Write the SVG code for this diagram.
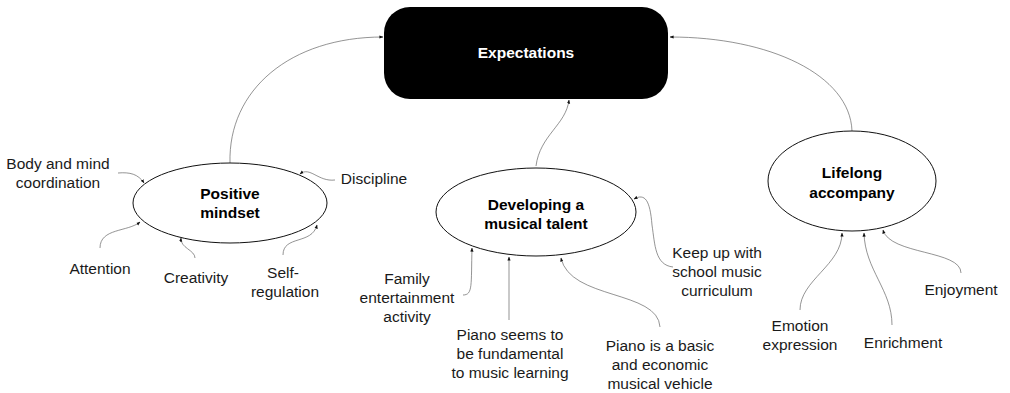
<svg xmlns="http://www.w3.org/2000/svg" width="1010" height="393" viewBox="0 0 1010 393">
  <style>
    .lbl { font-family: "Liberation Sans", Arial, sans-serif; font-size: 15.5px; fill: #1a1a1a; text-anchor: middle; }
    .ttl { font-family: "Liberation Sans", Arial, sans-serif; font-size: 15.5px; font-weight: bold; fill: #000; text-anchor: middle; }
    .hub { font-family: "Liberation Sans", Arial, sans-serif; font-size: 15.5px; font-weight: bold; fill: #fff; text-anchor: middle; }
    .oval { fill: #fff; stroke: #111; stroke-width: 1; }
    .link { fill: none; stroke: #666; stroke-width: 0.7; marker-end: url(#tip); }
  </style>
  <defs>
    <marker id="tip" viewBox="0 0 10 10" refX="9" refY="5" markerWidth="4" markerHeight="4" markerUnits="userSpaceOnUse" orient="auto">
      <path d="M0,1 L10,5 L0,9 Z" fill="#111"/>
    </marker>
  </defs>

  <rect width="1010" height="393" fill="#fff"/>

  <!-- connectors -->
  <g id="connectors">
    <path class="link" d="M230,163 C228,90 290,37 383,37"/>
    <path class="link" d="M852,131 C850,75 770,37 670,37"/>
    <path class="link" d="M536,166 C540,135 566,125 569,100"/>

    <path class="link" d="M118,173 C130,172 138,174 144,183"/>
    <path class="link" d="M335,180 C318,182 310,166 300,174"/>
    <path class="link" d="M100,248 C100,228 128,232 140,222"/>
    <path class="link" d="M195,258 C195,250 180,248 181,238"/>
    <path class="link" d="M283,255 C283,235 312,245 317,225"/>

    <path class="link" d="M463,295 C473,295 471,285 472,248"/>
    <path class="link" d="M509,320 L509,257"/>
    <path class="link" d="M660,327 C658,290 570,300 561,258"/>
    <path class="link" d="M673,267 C655,265 655,245 652,225 C650,200 645,193 634,199"/>

    <path class="link" d="M800,310 C800,280 842,265 842,233"/>
    <path class="link" d="M892,325 C892,290 865,270 864,233"/>
    <path class="link" d="M961,273 C961,250 890,255 883,230"/>
  </g>

  <!-- central goal -->
  <g id="expectations">
    <rect x="384" y="7" width="284" height="92" rx="26" ry="26" fill="#000"/>
    <text class="hub" x="526" y="58">Expectations</text>
  </g>

  <!-- themes -->
  <g id="positive-mindset">
    <ellipse class="oval" cx="230" cy="203" rx="97" ry="40"/>
    <text class="ttl" x="230" y="199">Positive</text>
    <text class="ttl" x="230" y="218">mindset</text>
  </g>
  <g id="musical-talent">
    <ellipse class="oval" cx="536" cy="212" rx="100" ry="44"/>
    <text class="ttl" x="536" y="210">Developing a</text>
    <text class="ttl" x="536" y="229">musical talent</text>
  </g>
  <g id="lifelong-accompany">
    <ellipse class="oval" cx="852" cy="181" rx="84" ry="50"/>
    <text class="ttl" x="852" y="178">Lifelong</text>
    <text class="ttl" x="852" y="198">accompany</text>
  </g>

  <!-- sub-themes -->
  <g id="body-mind">
    <text class="lbl" x="58" y="169">Body and mind</text>
    <text class="lbl" x="58" y="188">coordination</text>
  </g>
  <g id="discipline"><text class="lbl" x="374" y="184">Discipline</text></g>
  <g id="attention"><text class="lbl" x="100" y="274">Attention</text></g>
  <g id="creativity"><text class="lbl" x="196" y="283">Creativity</text></g>
  <g id="self-regulation">
    <text class="lbl" x="283" y="278">Self-</text>
    <text class="lbl" x="285" y="297">regulation</text>
  </g>

  <g id="family">
    <text class="lbl" x="407" y="284">Family</text>
    <text class="lbl" x="407" y="303">entertainment</text>
    <text class="lbl" x="407" y="322">activity</text>
  </g>
  <g id="fundamental">
    <text class="lbl" x="510" y="340">Piano seems to</text>
    <text class="lbl" x="510" y="359">be fundamental</text>
    <text class="lbl" x="510" y="378">to music learning</text>
  </g>
  <g id="basic-vehicle">
    <text class="lbl" x="660" y="351">Piano is a basic</text>
    <text class="lbl" x="660" y="370">and economic</text>
    <text class="lbl" x="660" y="389">musical vehicle</text>
  </g>
  <g id="curriculum">
    <text class="lbl" x="717" y="258">Keep up with</text>
    <text class="lbl" x="717" y="277">school music</text>
    <text class="lbl" x="717" y="296">curriculum</text>
  </g>

  <g id="emotion">
    <text class="lbl" x="800" y="331">Emotion</text>
    <text class="lbl" x="800" y="350">expression</text>
  </g>
  <g id="enrichment"><text class="lbl" x="903" y="348">Enrichment</text></g>
  <g id="enjoyment"><text class="lbl" x="961" y="295">Enjoyment</text></g>
</svg>
